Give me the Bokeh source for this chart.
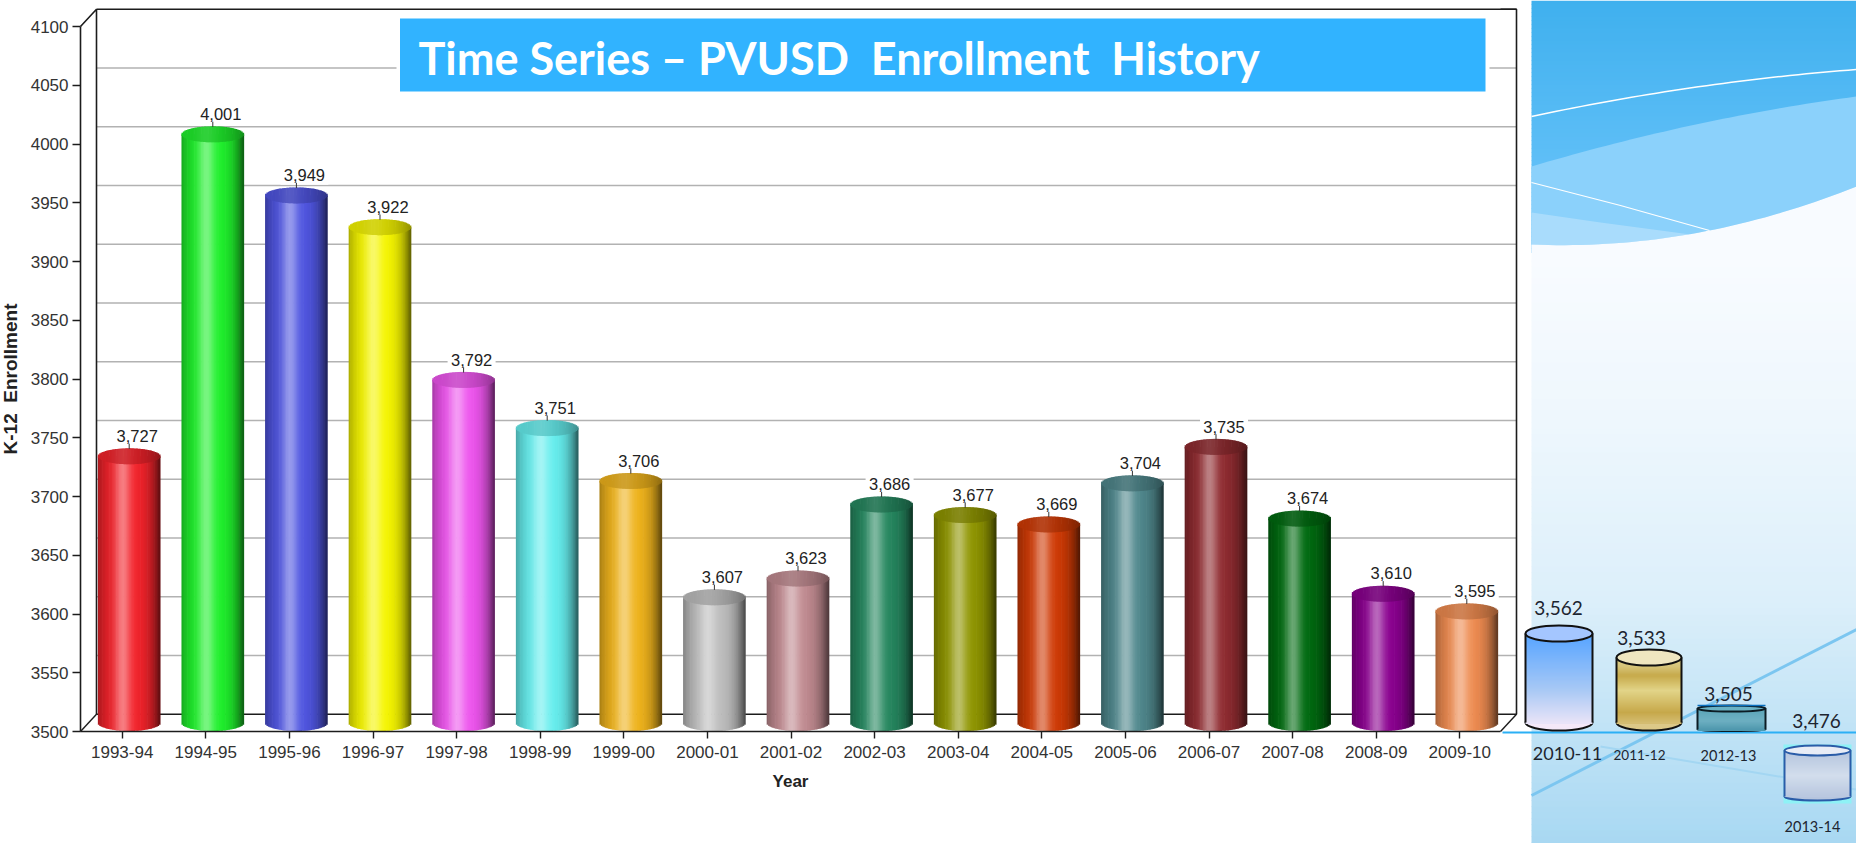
import numpy as np
from bokeh.core.properties import value
from bokeh.embed import file_html
from bokeh.models import ColumnDataSource, FixedTicker, LinearAxis, Range1d
from bokeh.plotting import figure
from bokeh.resources import INLINE

# ---------- data ----------
years = ["1993-94", "1994-95", "1995-96", "1996-97", "1997-98", "1998-99", "1999-00", "2000-01", "2001-02",
         "2002-03", "2003-04", "2004-05", "2005-06", "2006-07", "2007-08", "2008-09", "2009-10"]
enrollment = [3727, 4001, 3949, 3922, 3792, 3751, 3706, 3607, 3623, 3686, 3677, 3669, 3704, 3735, 3674, 3610, 3595]
bar_colors = ["#f2232b", "#1ff02c", "#4f55e0", "#f5f500", "#ee55ee", "#66eeee", "#efb31c", "#bdbdbd", "#c08a90",
              "#25875f", "#8f9500", "#cf3a05", "#4f878c", "#8f2b30", "#006a10", "#8a008f", "#ee8b50"]
y_ticks = list(range(3500, 4101, 50))
recent_years = ["2010-11", "2011-12", "2012-13", "2013-14"]
recent_values = ["3,562", "3,533", "3,505", "3,476"]
title_text = "Time Series \u2013 PVUSD\u00a0\u00a0Enrollment\u00a0\u00a0History"
y_title = "K-12\u00a0\u00a0Enrollment"

# ---------- scale of the chart, in page pixels ----------
X0, DX = 121.7, 83.6      # page x of the first category, pixels per category
Y0, DY = 731.0, 1.175     # page y of 3500, pixels per student
PAGE_L, PAGE_T, PAGE_R, PAGE_B = 0, 0, 1856, 843


def xd(px):
    return (np.asarray(px, dtype=float) - X0) / DX


def yd(py):
    return 3500 + (Y0 - np.asarray(py, dtype=float)) / DY


def mix(c, other, t):
    return tuple(a + (b - a) * t for a, b in zip(c, other))


def rgb(h):
    return tuple(int(h[i:i + 2], 16) for i in (1, 3, 5))


def hexc(c):
    return "#%02x%02x%02x" % tuple(int(round(min(255, max(0, v)))) for v in c)


p = figure(width=PAGE_R - PAGE_L, height=PAGE_B - PAGE_T, output_backend="svg", toolbar_location=None,
           x_range=Range1d(float(xd(PAGE_L)), float(xd(PAGE_R))), y_range=Range1d(float(yd(PAGE_B)), float(yd(PAGE_T))),
           x_axis_type=None, y_axis_type=None, min_border=0, outline_line_color=None, background_fill_color="white",
           border_fill_color="white")
p.styles = {"position": "absolute", "left": "0px", "top": "0px"}
p.grid.visible = False

SANS = value("Liberation Sans")
DECO = value("Lato")

# ---------- 3D box: back wall and grid ----------
WX, WY = 16 / DX, 17.3 / DY                # depth offset of the back wall in data units
left, right = float(xd(80)), float(xd(1500))
p.segment(x0=[left + WX] * len(y_ticks[1:-1]), x1=[right + WX] * len(y_ticks[1:-1]),
          y0=[t + WY for t in y_ticks[1:-1]], y1=[t + WY for t in y_ticks[1:-1]],
          line_color="#b2b2b2", line_width=1.6)
p.multi_line(xs=[[left, left + WX, left + WX, right + WX, right + WX, right],
                 [left + WX, right + WX]],
             ys=[[4100, 4100 + WY, 3500 + WY, 3500 + WY, 4100 + WY, 4100 + WY],
                 [4100 + WY, 4100 + WY]],
             line_color="#1c1c1c", line_width=1.6)
p.multi_line(xs=[[left, left + WX], [right, right + WX]], ys=[[3500, 3500 + WY], [3500, 3500 + WY]],
             line_color="#1c1c1c", line_width=1.4)

# ---------- cylinders ----------
N = 44
offs = 7 / DX
half = 31 / DX
DEPTH = 8.5 / DY
E = 8 / DY
lab_x = [i + offs + 8 / DX for i in range(len(years))]
lab_y = [v + 24.5 for v in enrollment]

# white halo that the value labels knock out of the grid
p.rect(x=lab_x, y=lab_y, width=48 / DX, height=19 / DY, fill_color="white", line_color=None)

u_edges = np.linspace(-1, 1, N + 1)
u_mid = (u_edges[:-1] + u_edges[1:]) / 2
body = dict(l=[], r=[], b=[], t=[], c=[])
cap = dict(l=[], r=[], b=[], t=[], c=[])
for i, (v, col) in enumerate(zip(enrollment, bar_colors)):
    base = rgb(col)
    cx = i + offs
    for a, b, u in zip(u_edges[:-1], u_edges[1:], u_mid):
        rim = np.sqrt(max(0.0, 1 - u * u))
        dark = 0.30 * abs(u) ** 3 if u < 0 else 0.62 * u ** 3
        light = 0.40 * np.exp(-((u + 0.2) / 0.26) ** 2)
        shade = mix(mix(base, (255, 255, 255), light), (0, 0, 0), dark)
        body["l"].append(cx + a * half - 0.004)
        body["r"].append(cx + b * half + 0.004)
        body["b"].append(3500 + DEPTH - E * rim)
        body["t"].append(v + DEPTH)
        body["c"].append(hexc(shade))
        capc = mix(mix(base, (0, 0, 0), 0.15 + 0.25 * max(0, u) ** 2), (255, 255, 255),
                   0.10 * np.exp(-((u + 0.2) / 0.3) ** 2))
        cap["l"].append(cx + a * half - 0.004)
        cap["r"].append(cx + b * half + 0.004)
        cap["b"].append(v + DEPTH - E * rim)
        cap["t"].append(v + DEPTH + E * rim)
        cap["c"].append(hexc(capc))
p.quad(left="l", right="r", bottom="b", top="t", fill_color="c", line_color=None, source=ColumnDataSource(body))
p.quad(left="l", right="r", bottom="b", top="t", fill_color="c", line_color=None, source=ColumnDataSource(cap))

# value labels and their little leaders
p.segment(x0=[i + offs for i in range(len(years))], x1=[i + offs for i in range(len(years))],
          y0=[v + 13.5 for v in enrollment], y1=[v + 18 for v in enrollment], line_color="#333333", line_width=1)
p.text(x=lab_x, y=lab_y, text=[f"{v:,}" for v in enrollment], text_font=SANS, text_font_size=value("16.5px"),
       text_align="center", text_baseline="middle", text_color="#222222")

# ---------- axes ----------
yaxis = LinearAxis(fixed_location=left, bounds=(3500, 4100), ticker=FixedTicker(ticks=y_ticks),
                   axis_label=y_title, axis_label_text_font="Liberation Sans",
                   axis_label_text_font_style="bold", axis_label_text_font_size="19px",
                   axis_label_text_color="#222222", axis_label_standoff=7,
                   major_label_text_font="Liberation Sans", major_label_text_font_size="17px",
                   major_label_text_color="#333333", major_label_standoff=4,
                   major_tick_out=8, major_tick_in=0, minor_tick_out=0, minor_tick_in=0,
                   axis_line_color="#1c1c1c", axis_line_width=1.6, major_tick_line_color="#1c1c1c",
                   major_tick_line_width=1.4)
p.add_layout(yaxis, "left")
xaxis = LinearAxis(fixed_location=3500, bounds=(left, right), ticker=FixedTicker(ticks=list(range(len(years)))),
                   major_label_overrides=dict(enumerate(years)),
                   axis_label="Year", axis_label_text_font="Liberation Sans",
                   axis_label_text_font_style="bold", axis_label_text_font_size="17px",
                   axis_label_text_color="#222222", axis_label_standoff=11,
                   major_label_text_font="Liberation Sans", major_label_text_font_size="17px",
                   major_label_text_color="#333333", major_label_standoff=7,
                   major_tick_out=7, major_tick_in=0, minor_tick_out=0, minor_tick_in=0,
                   axis_line_color="#1c1c1c", axis_line_width=1.6, major_tick_line_color="#1c1c1c",
                   major_tick_line_width=1.4)
p.add_layout(xaxis, "below")

# ---------- title banner ----------
p.quad(left=[float(xd(396))], right=[float(xd(1489))], bottom=[float(yd(94))], top=[float(yd(16))],
       fill_color="white", line_color=None)
p.quad(left=[float(xd(399.5))], right=[float(xd(1485))], bottom=[float(yd(91))], top=[float(yd(18))],
       fill_color="#31b3ff", line_color=None)
p.text(x=[float(xd(418))], y=[float(yd(57))], text=[title_text], text_font=value("Lato"), text_font_style="bold",
       text_font_size=value("45px"), text_color="white", text_align="left", text_baseline="middle")

# ---------- decorative slide panel on the right ----------
PX0, PX1 = 1531, 1856


def rows(y0, y1, step, stops_y, stops_c):
    ys = np.arange(y0, y1, step)
    cs = [rgb(c) for c in stops_c]
    colors = []
    for y in ys:
        colors.append(hexc([np.interp(y + step / 2, stops_y, [c[k] for c in cs]) for k in range(3)]))
    p.quad(left=[float(xd(PX0))] * len(ys), right=[float(xd(PX1))] * len(ys), top=list(yd(ys)),
           bottom=list(yd(ys + step + 0.4)), fill_color=colors, line_color=None)


def curve(xa, ya, xb, yb, xc, yc, n=40):
    """Smooth curve through three page points, for the slide's swooshes."""
    xs = np.linspace(xa, xc, n)
    return xs, np.polyval(np.polyfit([xa, xb, xc], [ya, yb, yc], 2), xs)


rows(0, 250, 4, [0, 200], ["#3fb0ee", "#66c2f9"])
low_xs, low_ys = curve(1531, 244, 1709, 230, 1856, 186)
up_xs, up_ys = curve(1531, 166, 1700, 123, 1856, 96)
p.patch(x=xd(np.r_[up_xs, low_xs[::-1]]), y=yd(np.r_[up_ys, low_ys[::-1]]), fill_color="#8bd1fb", line_color=None)
tip = low_xs < 1690
p.patch(x=xd(np.r_[1531, 1600, 1690, low_xs[tip][::-1]]), y=yd(np.r_[212, 222, 234, low_ys[tip][::-1]]),
        fill_color="#a9dcfc", line_color=None)
p.patch(x=xd(np.r_[low_xs, 1856, 1531]), y=yd(np.r_[low_ys, 262, 262]), fill_color="#f8fbff", line_color=None)
rows(260, 843, 6, [260, 420, 600, 843], ["#f8fbff", "#eef7fd", "#dceffa", "#a8d8f2"])
w_xs, w_ys = curve(1531, 116, 1700, 86, 1856, 69)
p.line(x=xd(w_xs), y=yd(w_ys), line_color="white", line_width=1.5)
p.line(x=xd([1531, 1620, 1709]), y=yd([182, 205, 230]), line_color="white", line_width=1.2)
p.line(x=xd([1531, 1856]), y=yd([795, 629]), line_color="#7cc6f0", line_width=3)
p.line(x=xd([1600, 1856]), y=yd([746, 789]), line_color="#a3d6f2", line_width=2)
p.line(x=xd([1502, 1856]), y=yd([732, 732]), line_color="#2bb0f5", line_width=2)


def drum(x0, x1, ytop, ybot, ry_top, ry_bot, stops_y, stops_c, top_fill, outline, lw):
    cx = float(xd((x0 + x1) / 2))
    w = float(xd(x1) - xd(x0))
    p.ellipse(x=[cx], y=[float(yd(ybot))], width=[w], height=[2 * ry_bot / DY], fill_color=stops_c[-1],
              line_color=outline, line_width=lw)
    ys = np.arange(ytop, ybot, 2.0)
    cs = [rgb(c) for c in stops_c]
    colors = [hexc([np.interp(y + 1, stops_y, [c[k] for c in cs]) for k in range(3)]) for y in ys]
    p.quad(left=[float(xd(x0))] * len(ys), right=[float(xd(x1))] * len(ys), top=list(yd(ys)),
           bottom=list(yd(ys + 2.4)), fill_color=colors, line_color=None)
    p.multi_line(xs=[list(xd([x0, x0])), list(xd([x1, x1]))], ys=[list(yd([ytop, ybot]))] * 2, line_color=outline,
                 line_width=lw)
    p.ellipse(x=[cx], y=[float(yd(ytop))], width=[w], height=[2 * ry_top / DY], fill_color=top_fill,
              line_color=outline, line_width=lw)


drum(1525, 1592, 633, 722, 8, 8, [640, 690, 728], ["#5fa8ff", "#a9c9f5", "#f4e8f8"], "#a4c6ff", "#111111", 2)
drum(1616, 1681, 657, 722, 8, 8, [665, 675, 690, 712, 728],
     ["#d8c77e", "#c6a94a", "#e2d488", "#c6a84a", "#dcc888"], "#efe6c0", "#111111", 2)
p.quad(left=[float(xd(1783))], right=[float(xd(1851))], top=[float(yd(744))], bottom=[float(yd(803))],
       fill_color="#8ef2f6", line_color=None)
drum(1697, 1765, 708, 729, 3, 1.5, [708, 720, 729], ["#5aa4b8", "#6eb0c2", "#4f98ae"], "#6bb3c5", "#0c1c24", 2)
p.line(x=xd([1697, 1765]), y=yd([705, 705]), line_color="#0a70c0", line_width=1.5)
drum(1784, 1850, 750, 796, 5, 4, [752, 775, 798], ["#b6c6df", "#d2ddec", "#b6c5de"], "#e8ecf6", "#2a5ca8", 2)

val_x, val_y = [1558, 1641, 1728, 1816], [607, 637, 693, 720]
yr_x, yr_y = [1567, 1639, 1728, 1812], [753, 754, 755, 826]
yr_sizes = ["18px", "13.5px", "14.5px", "14.5px"]
p.text(x=xd(val_x), y=yd(val_y), text=recent_values, text_font=DECO, text_font_size=value("19px"),
       text_align="center", text_baseline="middle", text_color="#1d2530")
for x, y, t, s in zip(yr_x, yr_y, recent_years, yr_sizes):
    p.text(x=[float(xd(x))], y=[float(yd(y))], text=[t], text_font=DECO, text_font_size=value(s),
           text_align="center", text_baseline="middle", text_color="#1d2530")

open("out.html", "w").write(file_html(p, INLINE))
